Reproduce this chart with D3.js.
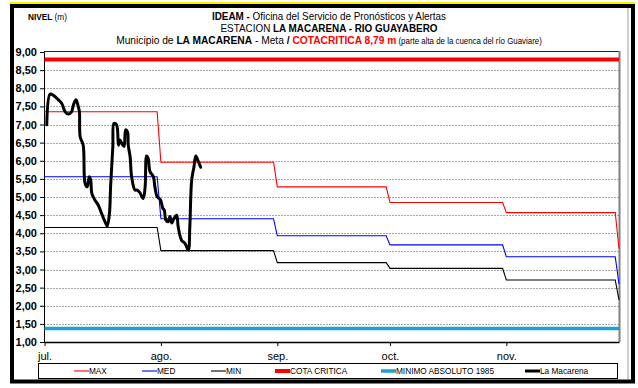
<!DOCTYPE html>
<html>
<head>
<meta charset="utf-8">
<script src="https://cdn.jsdelivr.net/npm/d3@7"></script>
<style>
  html, body { margin: 0; padding: 0; background: #fff; }
  svg { display: block; }
  .nar { font-family: "Liberation Sans Narrow", "Arial Narrow", "Liberation Sans", Arial, sans-serif; }
  .reg { font-family: "Liberation Sans", Arial, sans-serif; }
</style>
</head>
<body>
<svg id="chart" width="638" height="388"></svg>
<script>
// Days counted from 1 July; month starts used for the time axis.
const monthNames = ["jul.", "ago.", "sep.", "oct.", "nov."];
const monthStarts = [0, 31, 62, 92, 123];
const monthEnds = [30, 61, 91, 122, 152];
const periodEnd = 153; // 1 December

// Monthly reference levels (m), last entry = first day of December
const maxLevels = [7.35, 5.96, 5.28, 4.85, 4.57];
const maxDec = 3.58;
const medLevels = [5.56, 4.40, 3.93, 3.68, 3.35];
const medDec = 2.60;
const minLevels = [4.16, 3.52, 3.19, 3.03, 2.71];
const minDec = 2.16;

const cotaCritica = 8.79;
const minimoAbsoluto = 1.37;

// Observed level at La Macarena (day offset, level m)
const obsDays = [0.6, 1.5, 2.3, 3.7, 4.6, 5.5, 6.3, 7.2, 7.7, 8.4, 9.0, 9.3, 9.5, 10.3, 10.8, 11.4, 11.9, 12.3,
  12.6, 13.4, 14.3, 15.2, 16.1, 16.7, 17.3, 17.6, 18.2, 18.5, 19.2, 19.7, 20.1, 20.6, 21.2, 21.6, 22.1, 22.3,
  22.8, 23.2, 24.1, 24.7, 25.4, 26.3, 26.8, 27.2, 27.6, 28.1, 29.0, 29.4, 30.0, 30.9, 31.5, 31.9, 32.3, 33.0,
  33.4, 33.9, 34.5, 35.2, 35.6, 36.5, 37.4, 38.3, 38.7, 39.2, 39.8, 40.3, 41.0, 41.6];
const obsLevels = [6.99, 7.84, 7.81, 7.68, 7.58, 7.35, 7.29, 7.35, 7.54, 7.68, 7.49, 7.35, 6.66, 6.43, 5.38, 5.28, 5.56, 5.47,
  5.10, 4.92, 4.78, 4.55, 4.32, 4.20, 4.55, 5.28, 6.39, 7.03, 6.99, 6.43, 6.57, 6.48, 6.39, 6.85, 6.80, 6.43,
  6.11, 5.56, 5.19, 5.19, 5.12, 4.96, 5.28, 6.13, 6.07, 5.70, 5.56, 5.28, 5.01, 4.92, 4.69, 4.64, 4.37, 4.32,
  4.46, 4.28, 4.41, 4.50, 4.18, 3.81, 3.72, 3.54, 4.18, 5.47, 5.83, 6.13, 5.97, 5.82];

const yTicks = d3.range(1, 9.001, 0.5);

const svg = d3.select("#chart");
const plot = { left: 44, right: 619, top: 52, bottom: 342 };

const x = d3.scaleLinear().domain([0, periodEnd]).range([plot.left + 0.5, plot.right]);
const y = d3.scaleLinear().domain([1, 9]).range([plot.bottom, plot.top]);
const fmt = v => d3.format(".2f")(v).replace(".", ",");

// Outer frame
svg.append("line").attr("x1", 10).attr("x2", 635).attr("y1", 3).attr("y2", 3)
  .attr("stroke", "#ffee00").attr("stroke-width", 2);
svg.append("rect").attr("x", 12).attr("y", 6).attr("width", 621).attr("height", 375.5)
  .attr("fill", "none").attr("stroke", "#000").attr("stroke-width", 4);
svg.append("line").attr("x1", 628).attr("x2", 628).attr("y1", 8).attr("y2", 379)
  .attr("stroke", "#9a9a9a").attr("stroke-width", 1);

// Titles (condensed horizontally around the centre line)
const t = svg.append("g").attr("class", "nar").attr("font-size", 11).attr("fill", "#000");
const nivel = t.append("text").attr("x", 28).attr("y", 20).attr("font-size", 9)
  .attr("transform", "translate(28,0) scale(0.92,1) translate(-28,0)");
nivel.append("tspan").attr("font-weight", "bold").text("NIVEL");
nivel.append("tspan").text(" (m)");

const tc = t.append("g").attr("transform", "translate(329,0) scale(0.9,1)");
const l1 = tc.append("text").attr("x", 0).attr("y", 20).attr("text-anchor", "middle");
l1.append("tspan").attr("font-weight", "bold").text("IDEAM -");
l1.append("tspan").text(" Oficina del Servicio de Pronósticos y Alertas");

const l2 = tc.append("text").attr("x", 0).attr("y", 32).attr("text-anchor", "middle");
l2.append("tspan").text("ESTACION ");
l2.append("tspan").attr("font-weight", "bold").text("LA MACARENA - RIO GUAYABERO");

const l3 = t.append("g").attr("transform", "translate(329,0) scale(0.93,1)")
  .append("text").attr("x", 0).attr("y", 44).attr("text-anchor", "middle");
l3.append("tspan").text("Municipio de ");
l3.append("tspan").attr("font-weight", "bold").text("LA MACARENA");
l3.append("tspan").text(" - Meta  ");
l3.append("tspan").attr("font-weight", "bold").text(" /  ");
l3.append("tspan").attr("font-weight", "bold").attr("fill", "#ff0000").text("COTACRITICA 8,79 m");
l3.append("tspan").attr("font-size", 8.5).text(" (parte alta de la cuenca del río Guaviare)");

// Grid
svg.append("g").selectAll("line").data(yTicks.filter(v => v > 1 && v < 9)).join("line")
  .attr("x1", plot.left).attr("x2", plot.right)
  .attr("y1", d => Math.round(y(d)) + 0.5).attr("y2", d => Math.round(y(d)) + 0.5)
  .attr("stroke", "#a8a8a8").attr("stroke-dasharray", "2,1");

// Plot border: thin dark top, grey right edge
svg.append("line").attr("x1", plot.left).attr("x2", plot.right).attr("y1", plot.top - 0.5).attr("y2", plot.top - 0.5)
  .attr("stroke", "#222");
svg.append("line").attr("x1", plot.right + 0.5).attr("x2", plot.right + 0.5).attr("y1", plot.top - 1).attr("y2", plot.bottom)
  .attr("stroke", "#808080").attr("stroke-width", 2);

// Axes
const yAxis = d3.axisLeft(y).tickValues(yTicks).tickFormat(fmt).tickSize(4).tickPadding(3);
const gy = svg.append("g").attr("transform", `translate(${plot.left},0)`).call(yAxis);
gy.select(".domain").attr("stroke", "#000");
gy.selectAll("text").attr("class", "reg").attr("font-size", 11).attr("font-weight", "bold").attr("fill", "#000");

const xAxis = d3.axisBottom(x).tickValues(monthStarts).tickFormat((d, i) => monthNames[i]).tickSize(4).tickSizeOuter(0).tickPadding(6);
const gx = svg.append("g").attr("transform", `translate(0,${plot.bottom})`).call(xAxis);
gx.select(".domain").attr("stroke", "#000").attr("stroke-width", 1.3);
gx.selectAll("text").attr("class", "nar").attr("font-size", 11).attr("fill", "#000");

// Monthly step series: constant across each month, then the December value
function stepPoints(levels, decLevel) {
  const pts = [];
  levels.forEach((v, i) => {
    pts.push([monthStarts[i], v]);
    pts.push([i < levels.length - 1 ? monthEnds[i] : periodEnd - 1, v]);
  });
  pts.push([periodEnd, decLevel]);
  return pts;
}
const line = d3.line().x(d => x(d[0])).y(d => y(d[1]));

// Critical and absolute-minimum reference lines
svg.append("path").attr("d", line([[0, cotaCritica], [periodEnd, cotaCritica]]))
  .attr("fill", "none").attr("stroke", "#ff0000").attr("stroke-width", 4);
svg.append("path").attr("d", line([[0, minimoAbsoluto], [periodEnd, minimoAbsoluto]]))
  .attr("fill", "none").attr("stroke", "#1ba1d2").attr("stroke-width", 3.5);

[[maxLevels, maxDec, "#ff0000"], [medLevels, medDec, "#0000ff"], [minLevels, minDec, "#000000"]].forEach(([lv, dec, c]) => {
  svg.append("path").attr("d", line(stepPoints(lv, dec)))
    .attr("fill", "none").attr("stroke", c).attr("stroke-width", 1.1);
});

// Observed series
const obs = obsDays.map((d, i) => [d, obsLevels[i]]);
svg.append("path").attr("d", d3.line().x(d => x(d[0])).y(d => y(d[1])).curve(d3.curveCatmullRom)(obs))
  .attr("fill", "none").attr("stroke", "#000").attr("stroke-width", 3)
  .attr("stroke-linejoin", "round").attr("stroke-linecap", "round");

// Legend
const lg = svg.append("g");
lg.append("rect").attr("x", 38.5).attr("y", 363.5).attr("width", 579).attr("height", 15)
  .attr("fill", "#fff").attr("stroke", "#000");
const legendItems = [
  { name: "MAX", color: "#ff0000", w: 1.1, x: 74 },
  { name: "MED", color: "#0000ff", w: 1.1, x: 142 },
  { name: "MIN", color: "#000000", w: 1.1, x: 211 },
  { name: "COTA CRITICA", color: "#ff0000", w: 4, x: 275 },
  { name: "MINIMO ABSOLUTO 1985", color: "#1ba1d2", w: 3.5, x: 381 },
  { name: "La Macarena", color: "#000000", w: 3, x: 525 }
];
const li = lg.selectAll("g.item").data(legendItems).join("g").attr("class", "item");
li.append("line").attr("x1", d => d.x).attr("x2", d => d.x + 15).attr("y1", 371).attr("y2", 371)
  .attr("stroke", d => d.color).attr("stroke-width", d => d.w);
li.append("text").attr("class", "nar").attr("x", d => d.x + 15).attr("y", 374.5)
  .attr("font-size", 9).attr("fill", "#000")
  .attr("transform", d => `translate(${d.x + 15},0) scale(0.92,1) translate(${-(d.x + 15)},0)`)
  .text(d => d.name);
</script>
</body>
</html>
